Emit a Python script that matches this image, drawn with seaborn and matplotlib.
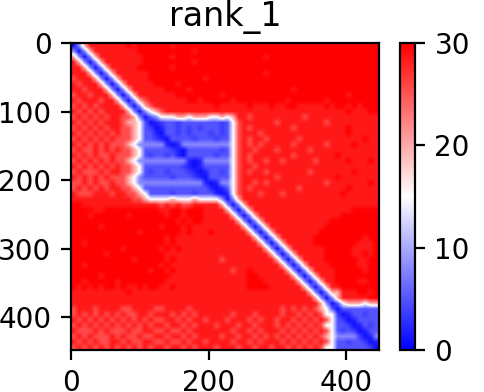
import numpy as np
import matplotlib
matplotlib.use("Agg")
import matplotlib.pyplot as plt
import seaborn as sns

TITLE = "rank_1"
AXIS_TICKS_X = [0, 200, 400]
AXIS_TICKS_Y = [0, 100, 200, 300, 400]
CBAR_TICKS = [0, 10, 20, 30]
RESIDUES_PER_CELL = 8
LEVEL_VALUES = [0.8, 2, 3.5, 5, 8, 15, 20, 25.5, 28.5, 30]

PAE_ROWS = [
"04688888 88989999 99899999 99999999 99999999 99999999 99999999",
"40468888 88889999 99999989 99999999 99999999 99999999 99999999",
"64046888 88888999 99899999 99999999 99989999 99999999 99999999",
"86404688 88888999 99999989 99999999 99999999 99999999 99999999",
"88640468 88889999 99899999 99999999 99999999 99999999 99999999",
"88864046 88888899 99999999 99999999 99989999 99999999 99999999",
"78886404 68888899 99999999 89999999 99999999 99999999 99999999",
"87888640 46888889 99989999 99999999 99999999 99999999 99999999",
"88788864 04688888 89999899 99999999 99999999 89999999 99999999",
"78878886 40468888 88899999 99989999 99999999 99999999 99899999",
"87888788 64046788 88888998 99999899 99999998 99999989 99999999",
"78787888 86404678 88888888 88988888 98889889 98888898 99898999",
"87878788 88640456 78888888 88888888 88888888 88888888 88988899",
"78787878 87764034 55566566 65565688 78888888 88788888 88888888",
"87878788 87665301 23323333 33323578 88888788 88888878 88888888",
"78787878 87765320 13323232 33323578 78888888 78888888 88988888",
"87878787 87765331 03323233 32323578 88788888 88888888 88988888",
"78787878 77765332 10333323 33233578 78878888 87888888 88888988",
"87878787 77654444 41014444 44444578 78788888 78888878 88898888",
"78778787 87765333 33210333 33323578 87888788 88878888 88888888",
"87878778 77765323 32310333 33233578 78888888 78888888 98888888",
"78787878 77654444 44444101 44444578 78878878 88887888 88988898",
"87878787 87765333 33332101 33333578 87888888 88888888 88888888",
"78777878 87765323 32333210 13323578 78878888 88878888 88898888",
"87878787 77654333 33233321 03333578 88888788 88888888 98888888",
"77878778 77654444 44444444 10144578 87878888 88888878 88888898",
"78787878 87765333 33333333 31013578 78888888 87888888 88988888",
"87778887 88776533 33233323 33101578 88788878 88888888 89888888",
"88888888 88877655 55655565 55540468 88888888 88888888 88888888",
"99888888 88888888 78787788 88864046 88888888 88888888 88888888",
"99998899 99999999 88998999 88886404 68888888 88888888 88899999",
"99989999 99899999 98998999 88888640 46888888 88888888 89999999",
"99999999 99999999 99989899 88888864 04688888 88888889 99999999",
"99999899 99999999 89998988 88888886 40468888 88888899 99999999",
"99999999 99998999 99998988 89888888 64046888 88888999 99999999",
"99999999 99999999 98988888 88888888 86404688 88889999 99999899",
"99899999 99999999 98988888 88888888 88640468 88889999 99998889",
"99999999 98999999 89898888 88888888 88864046 88888899 99988889",
"99999989 99999999 98888888 88888888 88886404 68888899 99988989",
"99999999 99989999 98988888 88878888 88888640 46888899 99998899",
"99899999 99999999 89888888 88888888 88888864 04688889 99998899",
"99999999 99999989 98988888 88888788 98888886 40468888 99999899",
"99999899 99999999 99888888 88888888 99888888 64046888 99999999",
"99899999 89999999 98888888 88888888 99988888 86404688 99998899",
"98989899 89889899 88988888 88888888 99998888 88640468 89999999",
"88888888 88988888 88888888 88888888 88888888 88864046 68889989",
"88888888 88888888 88888888 88888888 88888888 88886404 68888899",
"88888888 88888888 88888888 88888888 88888888 88888640 35666566",
"78887888 87788887 78888788 88888888 88888878 78787653 03333333",
"78787878 78778878 88787878 88888788 87888878 87878755 20133233",
"87878787 87878787 78878788 78887888 78788788 78787875 32013333",
"78787878 78787878 87887878 88788878 87888787 87878755 33201323",
"87778787 77877887 78778788 88888788 78788878 78787875 32320133",
"78787778 78778778 87887878 88878878 87878787 87878765 44442014",
"87878778 87877887 78778788 78888788 78788878 78787875 33233201",
"78787878 78787878 87887878 88788878 87887887 87878755 33333320",
]

grid = np.array([[LEVEL_VALUES[int(c)] for c in row.replace(" ", "")] for row in PAE_ROWS], dtype=float)
n = grid.shape[0]

fig = plt.figure(figsize=(4.84, 3.92), dpi=100)
W, H = 484.0, 392.0
ax = fig.add_axes([71 / W, 1 - 350 / H, 308 / W, 307 / H])
cax = fig.add_axes([400 / W, 1 - 350 / H, 15 / W, 307 / H])

sns.heatmap(grid, ax=ax, cbar_ax=cax, cmap="bwr", vmin=0, vmax=30,
            xticklabels=False, yticklabels=False, linewidths=0)
# Same values, shown with smooth image resampling like the original plot.
ax.imshow(grid, cmap="bwr", vmin=0, vmax=30, interpolation="bilinear",
          extent=(0, n, n, 0), aspect="auto", zorder=2)
ax.set_xlim(0, n)
ax.set_ylim(n, 0)

FS = 20
ax.set_xticks([v / RESIDUES_PER_CELL for v in AXIS_TICKS_X])
ax.set_xticklabels([str(v) for v in AXIS_TICKS_X], rotation=0, fontsize=FS)
ax.set_yticks([v / RESIDUES_PER_CELL for v in AXIS_TICKS_Y])
ax.set_yticklabels([str(v) for v in AXIS_TICKS_Y], rotation=0, fontsize=FS)
ax.tick_params(length=7, width=1.6, pad=7, color="black", bottom=True, left=True)
for s in ax.spines.values():
    s.set_visible(True)
    s.set_linewidth(1.6)
    s.set_color("black")
    s.set_zorder(5)
ax.set_title(TITLE, fontsize=24, pad=12)

cbar = ax.collections[0].colorbar
cbar.set_ticks(CBAR_TICKS)
cbar.ax.tick_params(labelsize=FS, length=7, width=1.6, pad=7)
cbar.outline.set_visible(True)
cbar.outline.set_linewidth(1.6)
cbar.outline.set_edgecolor("black")

fig.savefig("out.png", dpi=100)
